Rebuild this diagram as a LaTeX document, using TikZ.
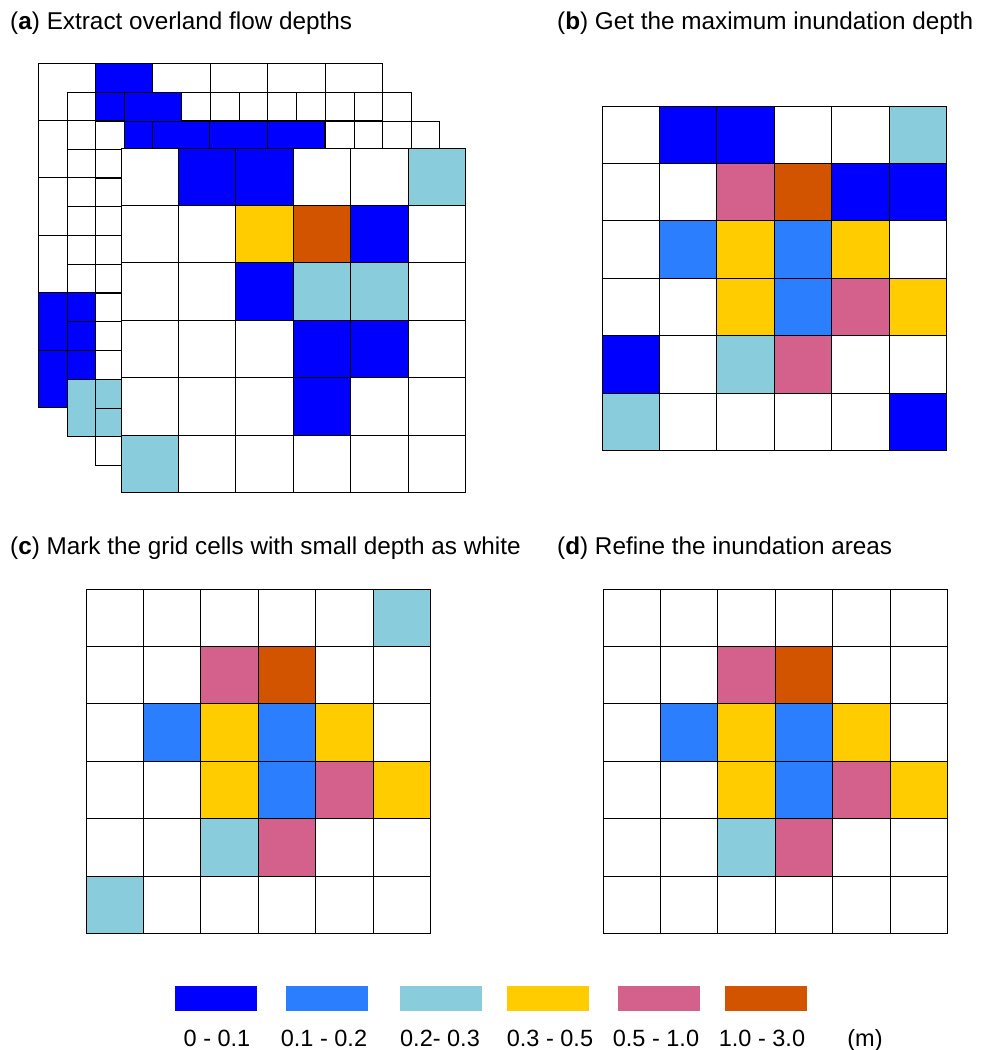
\documentclass[tikz,border=0pt]{standalone}
\usepackage{fontspec}
\setmainfont{Liberation Sans}

% depth classes
\definecolor{dpa}{HTML}{0000FF} % 0 - 0.1
\definecolor{dpb}{HTML}{2B7FFF} % 0.1 - 0.2
\definecolor{dpc}{HTML}{89CDDC} % 0.2 - 0.3
\definecolor{dpd}{HTML}{FFCC00} % 0.3 - 0.5
\definecolor{dpe}{HTML}{D4608C} % 0.5 - 1.0
\definecolor{dpf}{HTML}{D35400} % 1.0 - 3.0
\colorlet{wt}{white}

\def\cellsz{57.4}
% one 6x6 grid: x0, y0, rows of fill colours (none = see-through)
\newcommand{\depthgrid}[3]{%
  \foreach \rowcols [count=\ri from 0] in {#3} {
    \foreach \fc [count=\ci from 0] in \rowcols
      \draw[gridcell, fill=\fc] ({#1+\ci*\cellsz},{#2+\ri*\cellsz}) rectangle ++(\cellsz,\cellsz);
  }}

\begin{document}
\begin{tikzpicture}[x=1pt, y=-1pt,
  gridcell/.style={draw=black, line width=0.9pt},
  ttl/.style={anchor=base west, inner sep=0pt, font=\fontsize{24.3}{29}\selectfont},
  leglab/.style={anchor=base, inner sep=0pt, font=\fontsize{23.5}{28}\selectfont},
  legbox/.style={minimum width=82pt, minimum height=25pt, inner sep=0pt, draw=none}]
\useasboundingbox[fill=white] (0,0) rectangle (982,1050);
% ---- titles ----
\node[ttl] (ta) at (10,29)   {(\textbf{a}) Extract overland flow depths};
\node[ttl] (tb) at (557,29)  {(\textbf{b}) Get the maximum inundation depth};
\node[ttl] (tc) at (10,554)  {(\textbf{c}) Mark the grid cells with small depth as white};
\node[ttl] (td) at (557,554) {(\textbf{d}) Refine the inundation areas};
% ---- (a) stacked time steps, back to front ----
\depthgrid{38}{63}{{wt,dpa,wt,wt,wt,wt},{wt,wt,wt,wt,wt,wt},{wt,wt,wt,wt,wt,wt},
  {wt,wt,wt,wt,wt,wt},{dpa,wt,wt,wt,wt,wt},{dpa,wt,wt,wt,wt,wt}}
\depthgrid{67}{92}{{none,dpa,none,none,none,none},{none,none,none,none,none,none},
  {none,none,none,none,none,none},{none,none,none,none,none,none},
  {none,none,none,none,none,none},{dpc,none,none,none,none,none}}
\depthgrid{95}{121}{{none,dpa,dpa,dpa,none,none},{none,none,none,none,none,none},
  {none,none,none,none,none,none},{none,none,none,none,none,none},
  {none,none,none,none,none,none},{none,none,none,none,none,none}}
\depthgrid{121}{148}{{wt,dpa,dpa,wt,wt,dpc},{wt,wt,dpd,dpf,dpa,wt},{wt,wt,dpa,dpc,dpc,wt},
  {wt,wt,wt,dpa,dpa,wt},{wt,wt,wt,dpa,wt,wt},{dpc,wt,wt,wt,wt,wt}}
% ---- (b) maximum depth ----
\depthgrid{602}{106}{{wt,dpa,dpa,wt,wt,dpc},{wt,wt,dpe,dpf,dpa,dpa},{wt,dpb,dpd,dpb,dpd,wt},
  {wt,wt,dpd,dpb,dpe,dpd},{dpa,wt,dpc,dpe,wt,wt},{dpc,wt,wt,wt,wt,dpa}}
% ---- (c) small depth set to white ----
\depthgrid{86}{589}{{wt,wt,wt,wt,wt,dpc},{wt,wt,dpe,dpf,wt,wt},{wt,dpb,dpd,dpb,dpd,wt},
  {wt,wt,dpd,dpb,dpe,dpd},{wt,wt,dpc,dpe,wt,wt},{dpc,wt,wt,wt,wt,wt}}
% ---- (d) refined areas ----
\depthgrid{603}{589}{{wt,wt,wt,wt,wt,wt},{wt,wt,dpe,dpf,wt,wt},{wt,dpb,dpd,dpb,dpd,wt},
  {wt,wt,dpd,dpb,dpe,dpd},{wt,wt,dpc,dpe,wt,wt},{wt,wt,wt,wt,wt,wt}}
% ---- legend ----
\foreach \fc/\lab/\xb/\xl [count=\i] in {dpa/0 - 0.1/216/217, dpb/0.1 - 0.2/327/324,
    dpc/0.2- 0.3/441/440, dpd/0.3 - 0.5/548/550, dpe/0.5 - 1.0/659/656, dpf/1.0 - 3.0/766/762} {
  \node[legbox, fill=\fc] (lb\i) at (\xb,998.5) {};
  \node[leglab] (ll\i) at (\xl,1046) {\lab};
}
\node[leglab] (unit) at (865,1046) {(m)};
\end{tikzpicture}
\end{document}
